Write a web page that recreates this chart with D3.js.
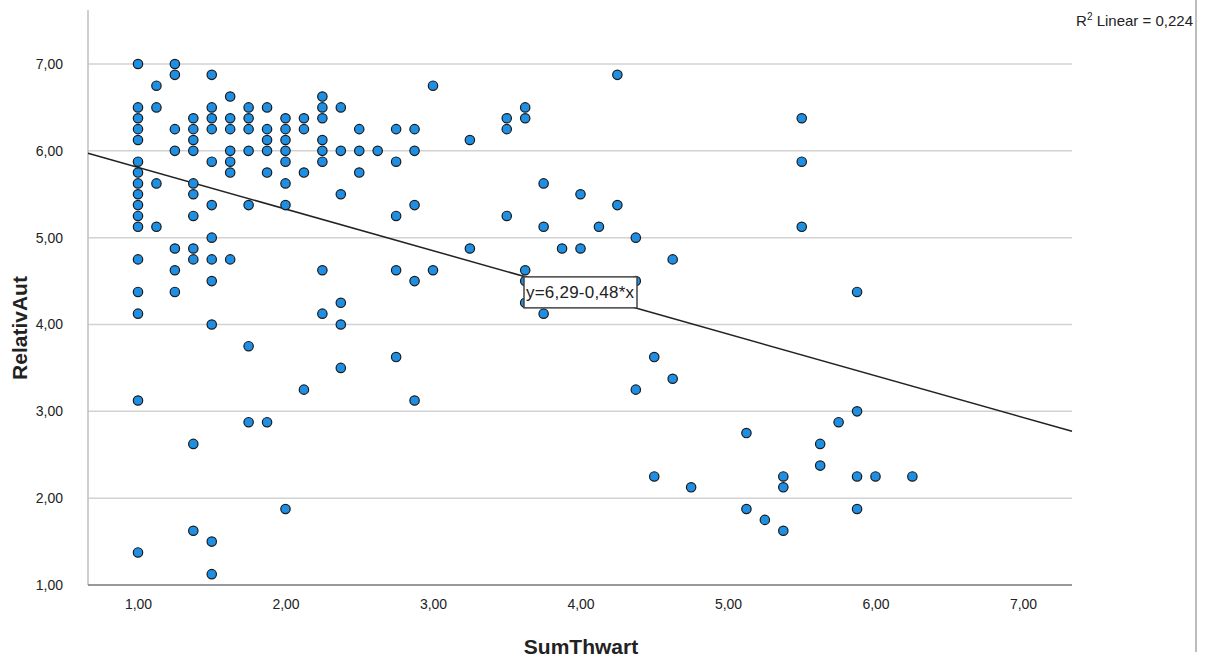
<!DOCTYPE html>
<html><head><meta charset="utf-8">
<script src="https://cdn.jsdelivr.net/npm/d3@7"></script>
<style>body{margin:0;background:#fff;} svg{display:block;font-family:"Liberation Sans",Arial,sans-serif;}</style>
</head><body><svg id="c" width="1205" height="663"></svg>
<script>
// SumThwart levels and the RelativAut values observed at each level
const xLevels = [1.0, 1.125, 1.25, 1.375, 1.5, 1.625, 1.75, 1.875, 2.0, 2.125, 2.25, 2.375, 2.5, 2.625, 2.75, 2.875, 3.0, 3.25, 3.5, 3.625, 3.75, 3.875, 4.0, 4.125, 4.25, 4.375, 4.5, 4.625, 4.75, 5.125, 5.25, 5.375, 5.5, 5.625, 5.75, 5.875, 6.0, 6.25];
const yAtLevel = [
  [7.0, 6.5, 6.375, 6.25, 6.125, 5.875, 5.75, 5.625, 5.5, 5.375, 5.25, 5.125, 4.75, 4.375, 4.125, 3.125, 1.375],
  [6.75, 6.5, 5.625, 5.125],
  [7.0, 6.875, 6.25, 6.0, 4.875, 4.625, 4.375],
  [6.375, 6.25, 6.125, 6.0, 5.625, 5.5, 5.25, 4.875, 4.75, 2.625, 1.625],
  [6.875, 6.5, 6.375, 6.25, 5.875, 5.375, 5.0, 4.75, 4.5, 4.0, 1.5, 1.125],
  [6.625, 6.375, 6.25, 6.0, 5.875, 5.75, 4.75],
  [6.5, 6.375, 6.25, 6.0, 5.375, 3.75, 2.875],
  [6.5, 6.25, 6.125, 6.0, 5.75, 2.875],
  [6.375, 6.25, 6.125, 6.0, 5.875, 5.625, 5.375, 1.875],
  [6.375, 6.25, 5.75, 3.25],
  [6.625, 6.5, 6.375, 6.125, 6.0, 5.875, 4.625, 4.125],
  [6.5, 6.0, 5.5, 4.25, 4.0, 3.5],
  [6.25, 6.0, 5.75],
  [6.0],
  [6.25, 5.875, 5.25, 4.625, 3.625],
  [6.25, 6.0, 5.375, 4.5, 3.125],
  [6.75, 4.625],
  [6.125, 4.875],
  [6.375, 6.25, 5.25],
  [6.5, 6.375, 4.625, 4.5, 4.25],
  [5.625, 5.125, 4.125],
  [4.875],
  [5.5, 4.875],
  [5.125],
  [6.875, 5.375],
  [5.0, 4.5, 3.25],
  [3.625, 2.25],
  [4.75, 3.375],
  [2.125],
  [2.75, 1.875],
  [1.75],
  [2.25, 2.125, 1.625],
  [6.375, 5.875, 5.125],
  [2.625, 2.375],
  [2.875],
  [4.375, 3.0, 2.25, 1.875],
  [2.25],
  [2.25]
];
const xTicks = [1, 2, 3, 4, 5, 6, 7];
const yTicks = [1, 2, 3, 4, 5, 6, 7];
const fitIntercept = 6.29, fitSlope = -0.48;
const fitLabel = "y=6,29-0,48*x";
const r2Value = "0,224";
const xTitle = "SumThwart", yTitle = "RelativAut";

const points = [];
xLevels.forEach((xv, i) => yAtLevel[i].forEach(yv => points.push({x: xv, y: yv})));

const svg = d3.select("#c");
const L = 88, R = 1072, T = 10, B = 585;
const x = d3.scaleLinear().domain([1, 7]).range([138, 1023]);
const y = d3.scaleLinear().domain([1, 7]).range([585, 64]);
const fmt = d => d.toFixed(2).replace(".", ",");

// outer right frame line
svg.append("line").attr("x1", 1196).attr("x2", 1196).attr("y1", 0).attr("y2", 652)
  .attr("stroke", "#bdbdbd").attr("stroke-width", 2);

// gridlines
svg.append("g").selectAll("line").data(yTicks.filter(d => d > 1)).join("line")
  .attr("x1", L).attr("x2", R).attr("y1", d => y(d)).attr("y2", d => y(d))
  .attr("stroke", "#d2d2d2").attr("stroke-width", 1.5);

// axes
const ya = svg.append("g").attr("transform", `translate(${L},0)`)
  .call(d3.axisLeft(y).tickValues(yTicks).tickFormat(fmt).tickSize(0).tickPadding(25));
ya.select(".domain").remove();
ya.selectAll("text").attr("font-size", 14).attr("fill", "#222").attr("font-family", "Liberation Sans, Arial");
const xa = svg.append("g").attr("transform", `translate(0,${B})`)
  .call(d3.axisBottom(x).tickValues(xTicks).tickFormat(fmt).tickSize(0).tickPadding(14));
xa.select(".domain").remove();
xa.selectAll("text").attr("font-size", 14).attr("fill", "#222").attr("font-family", "Liberation Sans, Arial");

svg.append("line").attr("x1", L).attr("x2", L).attr("y1", T).attr("y2", B)
  .attr("stroke", "#bfbfbf").attr("stroke-width", 1.5);
svg.append("line").attr("x1", L).attr("x2", R).attr("y1", B).attr("y2", B)
  .attr("stroke", "#777").attr("stroke-width", 1.5);

// regression line
const x0 = x.invert(L), x1 = x.invert(R);
svg.append("line")
  .attr("x1", L).attr("y1", y(fitIntercept + fitSlope * x0))
  .attr("x2", R).attr("y2", y(fitIntercept + fitSlope * x1))
  .attr("stroke", "#222").attr("stroke-width", 1.5);

// points
svg.append("g").selectAll("circle").data(points).join("circle")
  .attr("cx", d => x(d.x)).attr("cy", d => y(d.y)).attr("r", 4.7)
  .attr("fill", "#1f8fe3").attr("stroke", "#1a1a1a").attr("stroke-width", 1.2);

// fit label box, diagonal lying on the regression line, centred at x = 4
const cx = 4, bw = 113, bh = 31;
const bx = x(cx) - bw / 2, by = y(fitIntercept + fitSlope * cx) - bh / 2;
svg.append("rect").attr("x", bx).attr("y", by).attr("width", bw).attr("height", bh)
  .attr("fill", "#fff").attr("stroke", "#444").attr("stroke-width", 1.5);
svg.append("text").attr("x", bx + 2).attr("y", by + bh / 2 + 6)
  .attr("font-size", 17).attr("fill", "#222").attr("textLength", 108).text(fitLabel);

// R² label
const r2 = svg.append("text").attr("x", 1193).attr("y", 26).attr("text-anchor", "end")
  .attr("font-size", 15).attr("fill", "#222");
r2.append("tspan").text("R");
r2.append("tspan").attr("font-size", 10).attr("dy", -6).text("2");
r2.append("tspan").attr("dy", 6).text(" Linear = " + r2Value);

// axis titles
svg.append("text").attr("x", 581).attr("y", 654).attr("text-anchor", "middle")
  .attr("font-size", 21).attr("font-weight", "bold").attr("fill", "#222").text(xTitle);
svg.append("text").attr("transform", "translate(27,328) rotate(-90)").attr("text-anchor", "middle")
  .attr("font-size", 21).attr("font-weight", "bold").attr("fill", "#222").text(yTitle);
</script></body></html>
